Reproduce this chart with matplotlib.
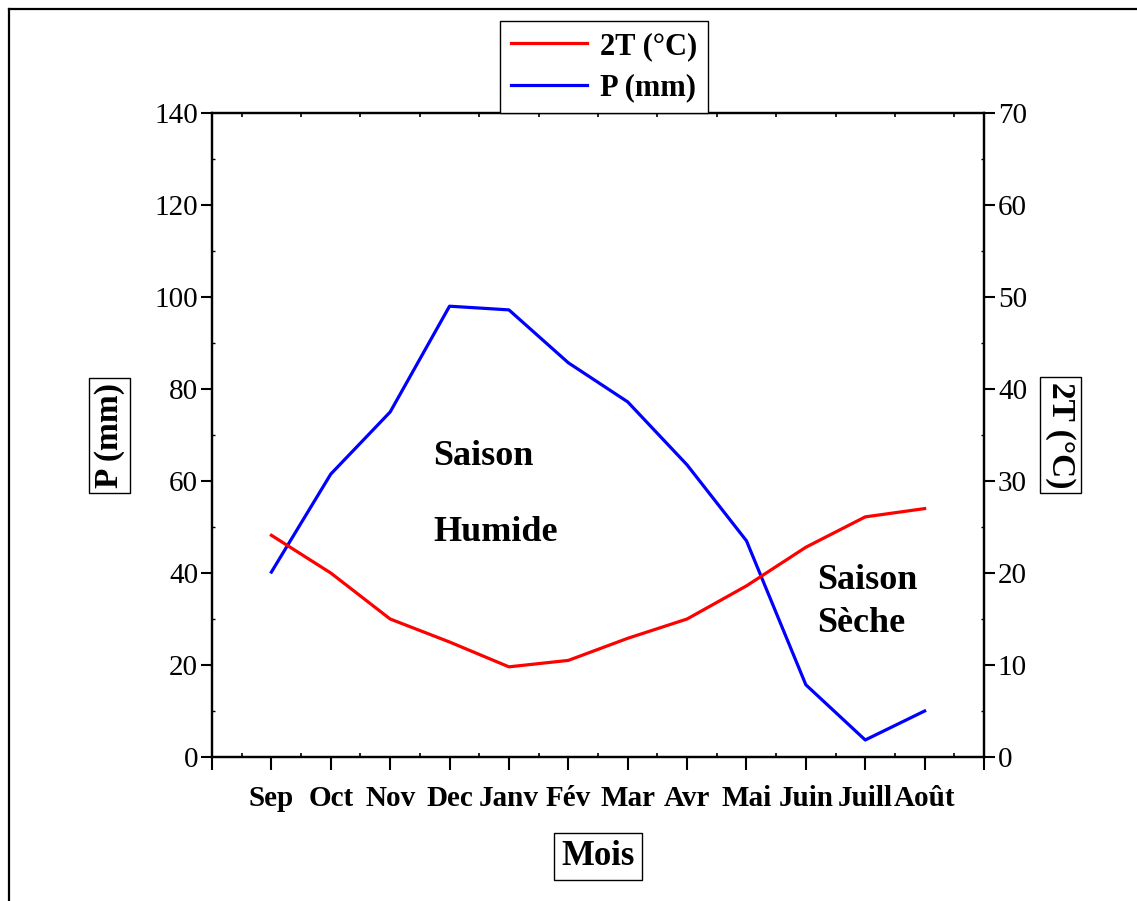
import matplotlib
matplotlib.use("Agg")
import matplotlib.pyplot as plt
from matplotlib.lines import Line2D
from matplotlib.ticker import FixedLocator, MultipleLocator

plt.rcParams['font.family'] = ['Liberation Serif', 'DejaVu Serif']

# monthly data
months = ['Sep', 'Oct', 'Nov', 'Dec', 'Janv', 'Fév', 'Mar', 'Avr', 'Mai', 'Juin', 'Juill', 'Août']
p_mm = [40.2, 61.5, 75.0, 98.0, 97.2, 85.7, 77.2, 63.5, 47.0, 15.7, 3.7, 10.0]
t2_c = [24.1, 20.0, 15.0, 12.5, 9.8, 10.5, 12.9, 15.0, 18.6, 22.8, 26.1, 27.0]

W, H = 1137, 901
fig = plt.figure(figsize=(W / 100, H / 100), dpi=100)
ax = fig.add_axes([212 / W, 1 - 757 / H, (984 - 212) / W, (757 - 113) / H])
ax2 = ax.twinx()

x = list(range(1, len(months) + 1))
lp, = ax.plot(x, p_mm, color='#0000ff', lw=2.3, label='P (mm)')
lt, = ax2.plot(x, t2_c, color='#ff0000', lw=2.3, label='2T (°C)')

ax.set_xlim(0, 13)
ax.set_ylim(0, 140)
ax2.set_ylim(0, 70)

# x ticks: major every month (labels only on months), minor half way
ax.xaxis.set_major_locator(FixedLocator(range(0, 14)))
ax.set_xticklabels([''] + months + [''], fontweight='bold', fontsize=21)
ax.xaxis.set_minor_locator(MultipleLocator(0.5))
ax.yaxis.set_major_locator(MultipleLocator(20))
ax.yaxis.set_minor_locator(MultipleLocator(10))
ax2.yaxis.set_major_locator(MultipleLocator(10))
ax2.yaxis.set_minor_locator(MultipleLocator(5))

for a in (ax, ax2):
    for s in a.spines.values():
        s.set_linewidth(1.6)
ax.tick_params(axis='x', which='major', direction='out', length=9, width=1.5, pad=11)
ax.tick_params(axis='x', which='minor', direction='in', length=3, width=1.2, top=True)
ax.tick_params(axis='y', which='major', direction='out', length=8, width=1.5, labelsize=21, pad=2)
ax.tick_params(axis='y', which='minor', direction='in', length=2, width=1.0)
ax2.tick_params(axis='y', which='major', direction='out', length=8, width=1.5, labelsize=21, pad=2)
ax2.tick_params(axis='y', which='minor', direction='in', length=2, width=1.0)

box = dict(boxstyle='square,pad=0.15', facecolor='white', edgecolor='black', linewidth=1.0)
ax.set_ylabel('P (mm)', fontweight='bold', fontsize=24, labelpad=21, bbox=box)
ax2.set_ylabel('2T (°C)', fontweight='bold', fontsize=24, rotation=-90, labelpad=35, bbox=box)
ax.set_xlabel('Mois', fontweight='bold', fontsize=25, labelpad=20,
              bbox=dict(boxstyle='square,pad=0.2', facecolor='white', edgecolor='black', linewidth=1.0))

txt = dict(fontweight='bold', fontsize=26, va='center', ha='left')
ax.text(3.72, 65.4, 'Saison', **txt)
ax.text(3.72, 48.7, 'Humide', **txt)
ax.text(10.19, 38.3, 'Saison', **txt)
ax.text(10.19, 29.1, 'Sèche', **txt)

leg = fig.legend([lt, lp], ['2T (°C)', 'P (mm)'], loc='lower center',
                 bbox_to_anchor=(604 / W, 1 - 113 / H), fancybox=False,
                 edgecolor='black', framealpha=1, handlelength=2.5,
                 labelspacing=0.4, borderpad=0.35, handletextpad=0.4,
                 borderaxespad=0, prop={'weight': 'bold', 'size': 22})
leg.get_frame().set_linewidth(1.0)

# outer frame (top and left edges visible)
fx, fy = 8.5 / W, 1 - 8.5 / H
fig.add_artist(Line2D([fx, fx], [0, fy], color='black', lw=1.6))
fig.add_artist(Line2D([fx, 1], [fy, fy], color='black', lw=1.6))

fig.savefig('out.png', dpi=100, facecolor='white')
